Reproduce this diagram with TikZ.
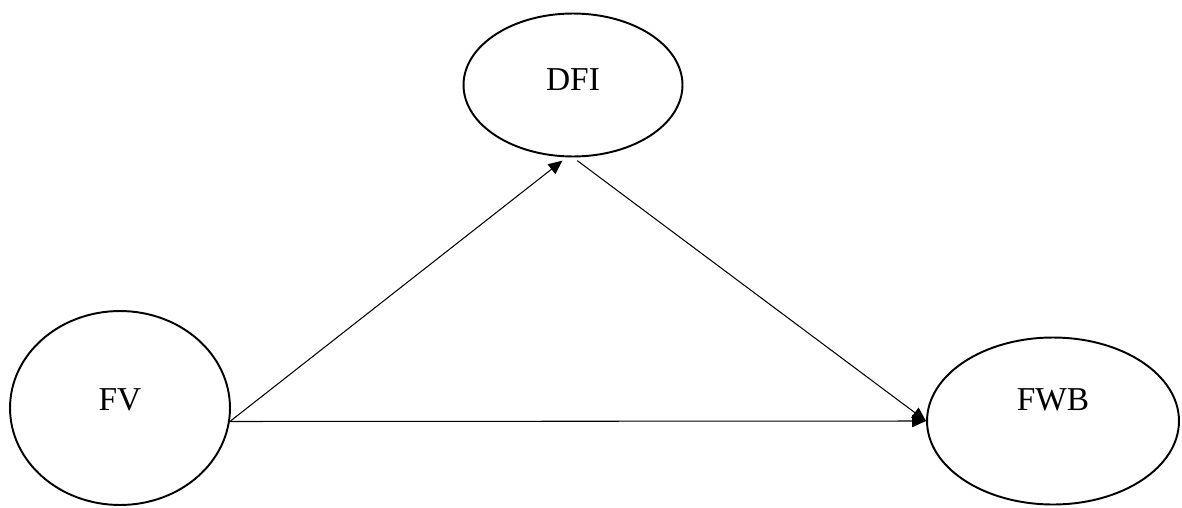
\documentclass[tikz,border=0pt]{standalone}
\usepackage{fontspec}
\setmainfont{Liberation Serif}
\usepackage{tikz}
\usetikzlibrary{positioning,shapes.geometric,arrows.meta}

\begin{document}
\begin{tikzpicture}[x=0.02cm, y=-0.02cm,
    construct/.style={draw, ellipse, line width=1.1pt, inner sep=0pt},
    construct text/.style={font=\fontsize{19}{22}\selectfont},
    path arrow/.style={-{Triangle[length=8pt,width=7pt]}, line width=0.6pt}]
    \useasboundingbox (0,0) rectangle (1182,507);
    % latent constructs
    \node[construct, minimum width=4.4cm, minimum height=3.88cm,
      label={[construct text, name=fvtxt, yshift=0.16cm]center:FV}] (fv) at (120,408) {};
    \node[construct, minimum width=4.38cm, minimum height=2.86cm,
      label={[construct text, name=dfitxt, yshift=0.1cm]center:DFI}] (dfi) at (573,85) {};
    \node[construct, minimum width=5.04cm, minimum height=3.34cm,
      label={[construct text, name=fwbtxt, yshift=0.42cm]center:FWB}] (fwb) at (1053,421) {};
    % paths
    \draw[path arrow, shorten >=3pt] (fv.-7) -- (dfi.-95);
    \draw[path arrow, shorten <=3pt] (dfi.south) -- (fwb.west);
    \draw[path arrow] (fv.-7) -- (fwb.west);
  \end{tikzpicture}
\end{document}
